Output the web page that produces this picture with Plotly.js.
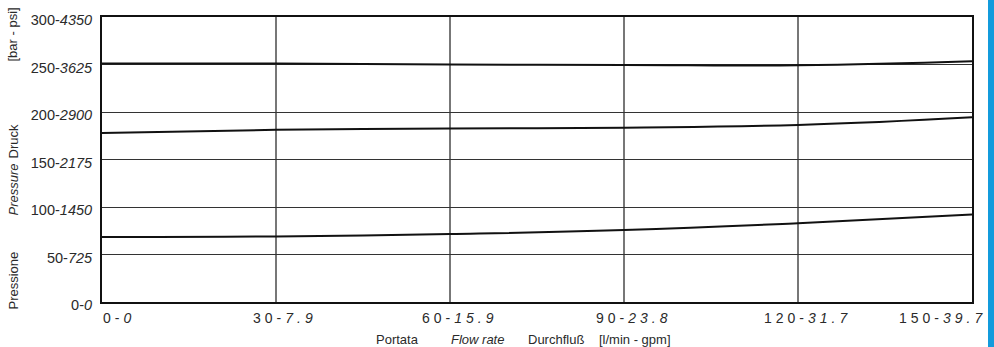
<!DOCTYPE html>
<html>
<head>
<meta charset="utf-8">
<script src="https://cdn.plot.ly/plotly-3.0.1.min.js"></script>
<style>
html,body{margin:0;padding:0;background:#fff;}
#chart{width:994px;height:347px;}
</style>
</head>
<body>
<div id="chart"></div>
<script>
// ---- data ----
const flowLmin = [0, 30, 60, 90, 120, 150];
const flowGpm = ['0', '7.9', '15.9', '23.8', '31.7', '39.7'];
const pressureBar = [0, 50, 100, 150, 200, 250, 300];
const pressurePsi = ['0', '725', '1450', '2175', '2900', '3625', '4350'];

const curveUpper = [251, 251, 250, 249.5, 249.3, 253.5];
const curveMiddle = [178, 181.2, 182.6, 183.5, 186.4, 194.5];
const curveLower = [68.4, 69, 71.5, 75.7, 83, 92.2];

const yTitles = ['[bar - psi]', 'Druck', '<i>Pressure</i>', 'Pressione'];
const xTitles = ['Portata', '<i>Flow rate</i>', 'Durchfluß', '[l/min - gpm]'];

// ---- layout helpers ----
const L = 102, R = 972, T = 17, B = 302;
const W = R - L, H = B - T;
const px2x = p => (p - L) / W;
const px2y = p => (B - p) / H;

const lineStyle = {color: '#111', width: 2, shape: 'spline', smoothing: 1.3};
const traces = [curveUpper, curveMiddle, curveLower].map(v => ({
  x: flowLmin, y: v, type: 'scatter', mode: 'lines', line: lineStyle,
  hoverinfo: 'skip', showlegend: false
}));

const font = {family: 'Liberation Sans, Arial, sans-serif', color: '#2a2a2a'};
const annotations = [];

// x tick labels
flowLmin.forEach((v, i) => {
  const last = i === flowLmin.length - 1;
  const first = i === 0;
  annotations.push({
    xref: 'x', yref: 'paper', x: v, y: px2y(318),
    xanchor: first ? 'left' : (last ? 'right' : 'center'),
    yanchor: 'middle',
    xshift: first ? -1 : (last ? 16 : 9),
    showarrow: false,
    text: '<span style="letter-spacing:4px">' + v + '-<i>' + flowGpm[i] + '</i></span>',
    font: Object.assign({}, font, {size: 14})
  });
});

// y titles (rotated)
const yTitleCenters = [35, 142, 190, 281];
yTitles.forEach((t, i) => {
  annotations.push({
    xref: 'paper', yref: 'paper', x: px2x(12.5), y: px2y(yTitleCenters[i]),
    xanchor: 'center', yanchor: 'middle', textangle: -90, showarrow: false,
    text: t, font: Object.assign({}, font, {size: 13})
  });
});

// x titles
const xTitleLefts = [375, 450, 527, 598];
xTitles.forEach((t, i) => {
  annotations.push({
    xref: 'paper', yref: 'paper', x: px2x(xTitleLefts[i]), y: px2y(339),
    xanchor: 'left', yanchor: 'middle', showarrow: false, borderpad: 0,
    text: t, font: Object.assign({}, font, {size: 13})
  });
});

const layout = {
  width: 994, height: 347,
  margin: {l: L, r: 994 - R, t: T, b: 347 - B, pad: 0},
  paper_bgcolor: '#fff', plot_bgcolor: '#fff',
  showlegend: false,
  font: font,
  xaxis: {
    range: [0, 150], tickvals: flowLmin, showticklabels: false,
    showgrid: true, gridcolor: '#777', gridwidth: 1.3,
    zeroline: false, showline: true, linecolor: '#111', linewidth: 2, mirror: true,
    ticks: '', fixedrange: true
  },
  yaxis: {
    range: [0, 300], tickvals: pressureBar,
    ticktext: pressureBar.map((v, i) => v + '-<i>' + pressurePsi[i] + '</i>'),
    tickfont: Object.assign({}, font, {size: 14.5}),
    ticklabelstandoff: 5, ticklabelshift: 3,
    showgrid: true, gridcolor: '#333', gridwidth: 1,
    zeroline: false, showline: true, linecolor: '#111', linewidth: 2, mirror: true,
    ticks: '', fixedrange: true
  },
  shapes: [{
    type: 'rect', xref: 'paper', yref: 'paper',
    x0: px2x(988), x1: px2x(1000), y0: px2y(360), y1: px2y(-10),
    fillcolor: '#139bdc', line: {width: 0}, layer: 'above'
  }],
  annotations: annotations
};

Plotly.newPlot('chart', traces, layout, {displayModeBar: false, staticPlot: true});
</script>
</body>
</html>
